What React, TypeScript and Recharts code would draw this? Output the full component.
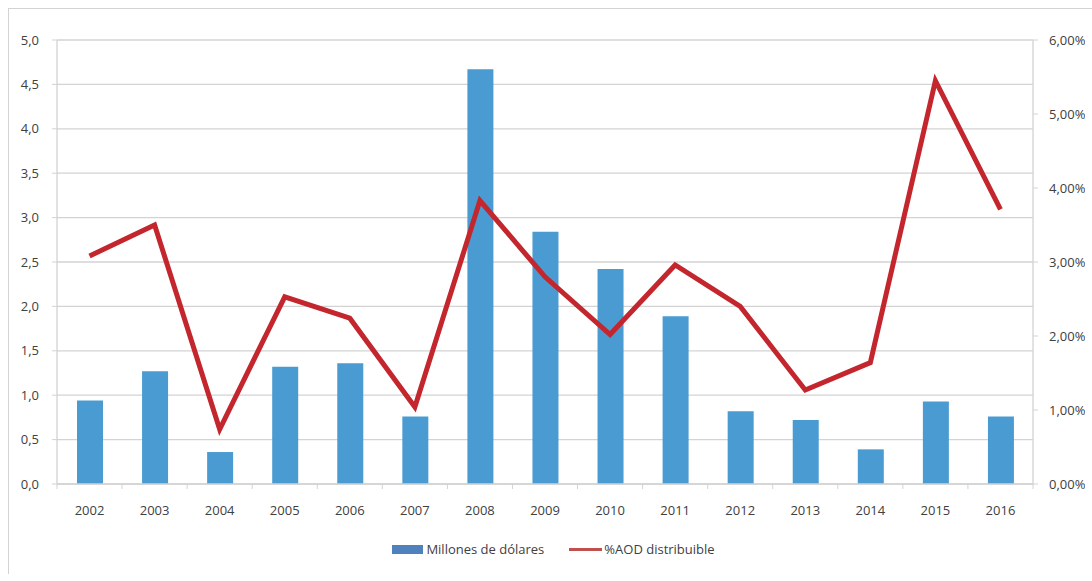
import React from 'react';
import { ComposedChart, Bar, Line, XAxis, YAxis, CartesianGrid, Legend } from 'recharts';

const years = ['2002', '2003', '2004', '2005', '2006', '2007', '2008', '2009', '2010', '2011', '2012', '2013', '2014', '2015', '2016'];
const millones = [0.94, 1.27, 0.36, 1.32, 1.36, 0.76, 4.67, 2.84, 2.42, 1.89, 0.82, 0.72, 0.39, 0.93, 0.76];
const aodPct = [3.08, 3.50, 0.74, 2.53, 2.24, 1.04, 3.83, 2.80, 2.02, 2.96, 2.40, 1.27, 1.64, 5.45, 3.71];
const leftTicks = [0, 0.5, 1, 1.5, 2, 2.5, 3, 3.5, 4, 4.5, 5];
const rightTicks = [0, 1, 2, 3, 4, 5, 6];
const seriesNames = ['Millones de dólares', '%AOD distribuible'];

const data = years.map((y, i) => ({ year: y, millones: millones[i], aod: aodPct[i] }));

const CHART_W = 1076;
const CHART_H = 565;
const LEFT_W = 48;
const RIGHT_W = 52;
const BAND = (CHART_W - LEFT_W - RIGHT_W) / years.length;
const FONT = '"Open Sans", sans-serif';
const TEXT = '#404040';
const GRID = '#D3D3D3';

function XTick(props: any) {
  const { x, y, payload, index } = props;
  return (
    <g>
      <line x1={x - BAND / 2} x2={x - BAND / 2} y1={y} y2={y + 5} stroke={GRID} />
      {index === years.length - 1 && (
        <line x1={x + BAND / 2} x2={x + BAND / 2} y1={y} y2={y + 5} stroke={GRID} />
      )}
      <text x={x} y={y + 31} textAnchor="middle" fill={TEXT} fontSize={13} fontFamily={FONT}>
        {payload.value}
      </text>
    </g>
  );
}

function LegendContent() {
  return (
    <div
      style={{
        display: 'flex',
        justifyContent: 'center',
        alignItems: 'center',
        paddingLeft: 13,
        height: 18,
        fontFamily: FONT,
        fontSize: 13,
        color: TEXT,
        whiteSpace: 'nowrap',
      }}
    >
      <span style={{ display: 'inline-block', width: 31, height: 9, background: '#4F81BD', marginRight: 3 }} />
      <span style={{ marginRight: 25 }}>{seriesNames[0]}</span>
      <span style={{ display: 'inline-block', width: 33, height: 3, background: '#C0504D', marginRight: 2 }} />
      <span>{seriesNames[1]}</span>
    </div>
  );
}

export default function App() {
  return (
    <div
      style={{
        position: 'fixed',
        left: 8,
        top: 8,
        width: 1083,
        height: CHART_H,
        borderLeft: `1px solid ${GRID}`,
        borderTop: `1px solid ${GRID}`,
        background: '#fff',
      }}
    >
      <ComposedChart
        width={CHART_W}
        height={CHART_H}
        data={data}
        margin={{ top: 31, right: 0, left: 0, bottom: 60 }}
        style={{ fontFamily: FONT }}
      >
        <CartesianGrid yAxisId="left" vertical={false} stroke={GRID} strokeWidth={1.3} />
        <XAxis
          dataKey="year"
          height={30}
          tickLine={false}
          tickSize={0}
          tickMargin={0}
          axisLine={{ stroke: GRID, strokeWidth: 1.3 }}
          tick={<XTick />}
          interval={0}
        />
        <YAxis
          yAxisId="left"
          orientation="left"
          width={LEFT_W}
          domain={[0, 5]}
          ticks={leftTicks}
          interval={0}
          tickSize={5}
          tickMargin={13}
          axisLine={{ stroke: GRID, strokeWidth: 1.3 }}
          tickLine={{ stroke: GRID }}
          tick={{ fill: TEXT, fontSize: 13, fontFamily: FONT }}
          tickFormatter={(v: number) => v.toFixed(1).replace('.', ',')}
        />
        <YAxis
          yAxisId="right"
          orientation="right"
          width={RIGHT_W}
          domain={[0, 6]}
          ticks={rightTicks}
          interval={0}
          tickSize={5}
          tickMargin={11}
          axisLine={{ stroke: GRID, strokeWidth: 1.3 }}
          tickLine={{ stroke: GRID }}
          tick={{ fill: TEXT, fontSize: 13, fontFamily: FONT, textAnchor: 'start' }}
          tickFormatter={(v: number) => v.toFixed(2).replace('.', ',') + '%'}
        />
        <Legend
          layout="horizontal"
          verticalAlign="middle"
          align="center"
          content={<LegendContent />}
          wrapperStyle={{ top: 531, left: 0, width: CHART_W, height: 18 }}
        />
        <Bar
          yAxisId="left"
          dataKey="millones"
          name={seriesNames[0]}
          fill="#4A9BD1"
          barSize={26}
          isAnimationActive={false}
        />
        <Line
          yAxisId="right"
          dataKey="aod"
          name={seriesNames[1]}
          type="linear"
          stroke="#C3262D"
          strokeWidth={5}
          dot={false}
          activeDot={false}
          isAnimationActive={false}
        />
      </ComposedChart>
    </div>
  );
}
